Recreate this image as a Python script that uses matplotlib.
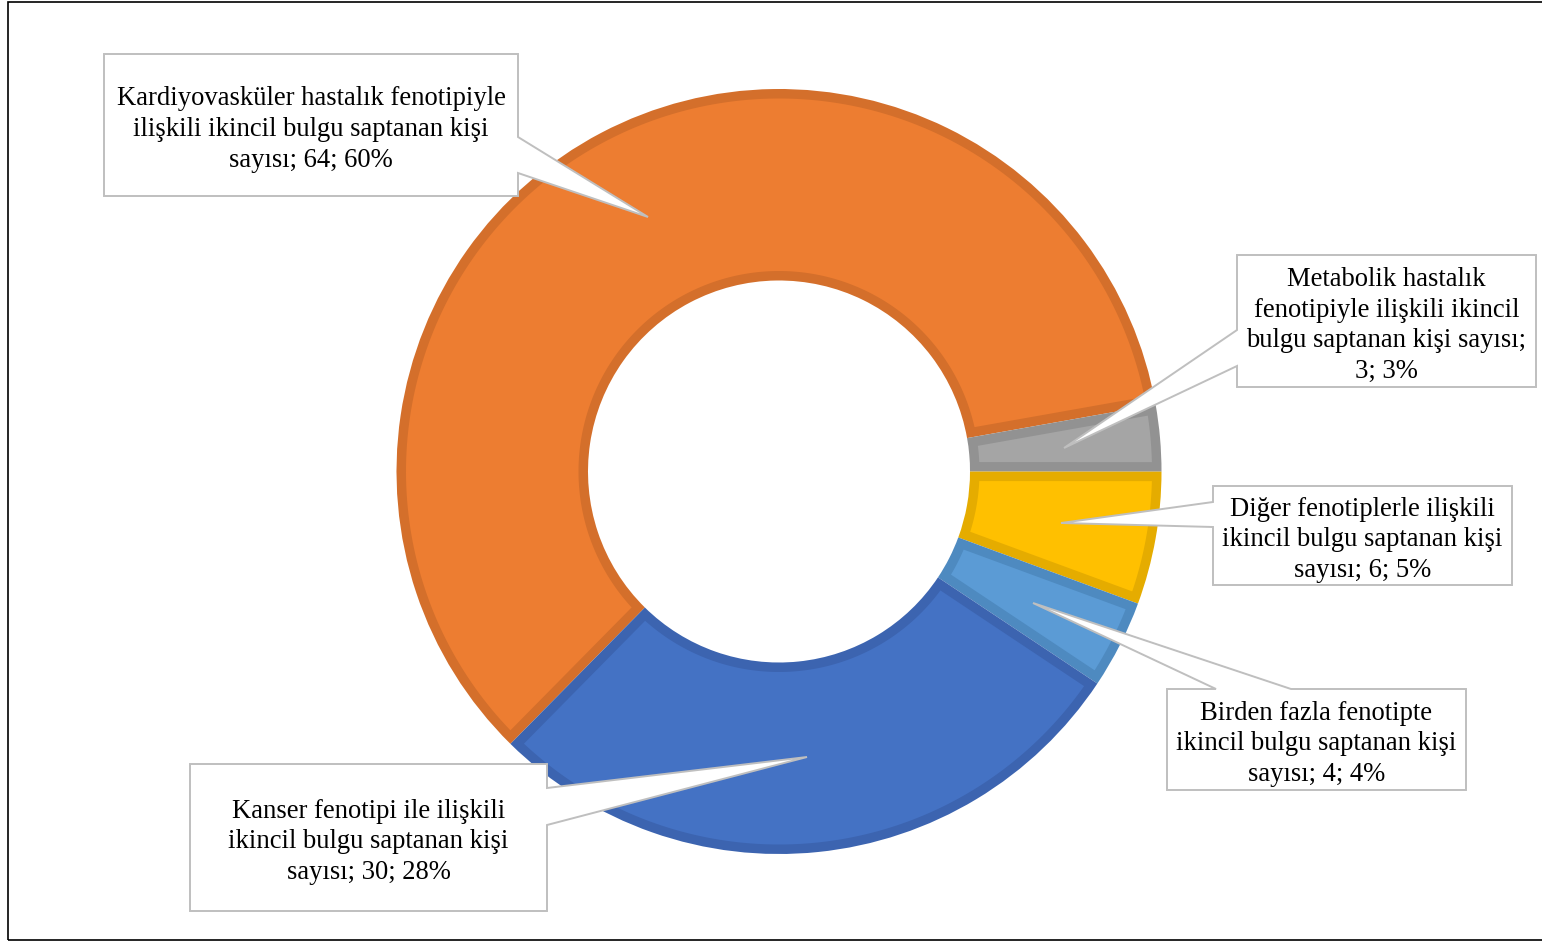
import numpy as np
import matplotlib
matplotlib.use("Agg")
import matplotlib.pyplot as plt
from matplotlib.patches import Polygon, Rectangle

# Secondary findings by phenotype group
categories = [
    "Kardiyovasküler hastalık fenotipiyle\nilişkili ikincil bulgu saptanan kişi\nsayısı",
    "Metabolik hastalık\nfenotipiyle ilişkili ikincil\nbulgu saptanan kişi sayısı;\n",
    "Diğer fenotiplerle ilişkili\nikincil bulgu saptanan kişi\nsayısı",
    "Birden fazla fenotipte\nikincil bulgu saptanan kişi\nsayısı",
    "Kanser fenotipi ile ilişkili\nikincil bulgu saptanan kişi\nsayısı",
]
counts = [64, 3, 6, 4, 30]
percent_labels = ["60%", "3%", "5%", "4%", "28%"]

fill_colors = ["#ED7D31", "#A5A5A5", "#FFC000", "#5B9BD5", "#4472C4"]
edge_colors = ["#D46F2B", "#929292", "#E5AC00", "#4E8AC0", "#3C64B0"]

W, H = 1542, 942
fig = plt.figure(figsize=(W / 100, H / 100), dpi=100)
ax = fig.add_axes([0, 0, 1, 1])


def fy(y):
    # top-down pixel row to axes y
    return H - y


cx, cy = 779, fy(471.5)
R_out, R_in = 382.5, 191
border = 9.5  # width of each slice's darker rim, in pixels

# Full slices in the rim colour
wedges, _ = ax.pie(counts, colors=edge_colors, startangle=225.4,
                   counterclock=False, radius=R_out, center=(cx, cy),
                   wedgeprops=dict(width=R_out - R_in, edgecolor="none",
                                   linewidth=0))


def inset_sector(w, d, n=200):
    """Ring sector shrunk by d pixels on every side."""
    x0, y0 = w.center
    ro = w.r - d
    ri = w.r - w.width + d
    t1, t2 = np.radians(w.theta1), np.radians(w.theta2)
    a_o = np.arcsin(d / ro)
    a_i = np.arcsin(d / ri)
    to = np.linspace(t1 + a_o, t2 - a_o, n)
    ti = np.linspace(t2 - a_i, t1 + a_i, n)
    xs = np.concatenate([x0 + ro * np.cos(to), x0 + ri * np.cos(ti)])
    ys = np.concatenate([y0 + ro * np.sin(to), y0 + ri * np.sin(ti)])
    return np.column_stack([xs, ys])


# Lighter interior of each slice
for w, fc in zip(wedges, fill_colors):
    ax.add_patch(Polygon(inset_sector(w, border), closed=True,
                         facecolor=fc, edgecolor="none", zorder=w.get_zorder()))

ax.set_xlim(0, W)
ax.set_ylim(0, H)
ax.set_aspect("equal")
ax.axis("off")

# Callout boxes: (left, top, right, bottom), pointer base points, pointer tip
callouts = [
    dict(box=(104, 54, 518, 196), side="right", base=(137, 173), tip=(648, 217)),
    dict(box=(1237, 255, 1536, 387), side="left", base=(330, 366), tip=(1064, 448)),
    dict(box=(1213, 486, 1512, 585), side="left", base=(502, 527), tip=(1061, 523)),
    dict(box=(1167, 689, 1466, 790), side="top", base=(1216, 1291), tip=(1033, 603)),
    dict(box=(190, 764, 547, 911), side="right", base=(788, 825), tip=(807, 757)),
]

for cat, n, pct, c in zip(categories, counts, percent_labels, callouts):
    l, t, r, btm = c["box"]
    b1, b2 = c["base"]
    tx, ty = c["tip"]
    if c["side"] == "right":
        pts = [(l, t), (r, t), (r, b1), (tx, ty), (r, b2), (r, btm), (l, btm)]
    elif c["side"] == "left":
        pts = [(l, t), (r, t), (r, btm), (l, btm), (l, b2), (tx, ty), (l, b1)]
    else:  # top
        pts = [(l, t), (b1, t), (tx, ty), (b2, t), (r, t), (r, btm), (l, btm)]
    poly = Polygon([(x, fy(y)) for x, y in pts], closed=True,
                   facecolor="white", edgecolor="#BFBFBF", linewidth=1.4,
                   joinstyle="miter", zorder=5)
    ax.add_patch(poly)
    if cat.endswith("\n"):
        text = f"{cat}{n}; {pct}"
    else:
        text = f"{cat}; {n}; {pct}"
    ax.text((l + r) / 2, fy((t + btm) / 2 + 4.5), text, ha="center", va="center",
            fontsize=19.2, family="Liberation Serif", color="#000000",
            linespacing=1.31, zorder=6)

# Outer frame
ax.add_patch(Rectangle((8, fy(940)), W + 10 - 8, 938, facecolor="none",
                       edgecolor="#000000", linewidth=1.2, zorder=7,
                       clip_on=False))

fig.savefig("out.png", dpi=100, facecolor="white")
